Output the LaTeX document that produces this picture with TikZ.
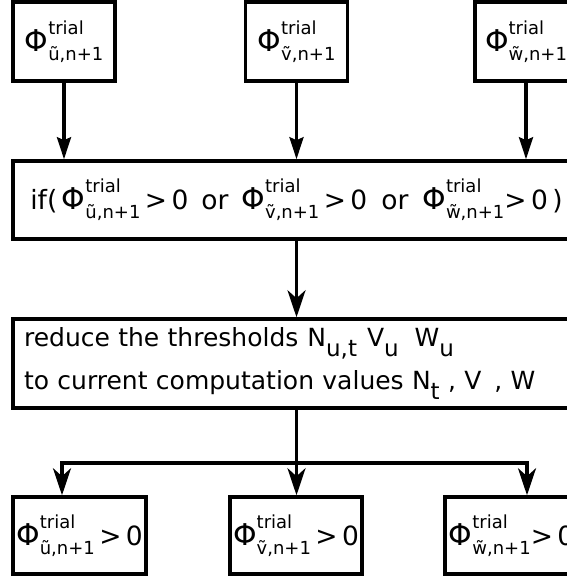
\documentclass[tikz,border=0pt]{standalone}
\usepackage{fontspec}
\setmainfont{DejaVu Sans}
\usetikzlibrary{arrows.meta}
\newcommand{\scr}{\fontsize{18}{19}\selectfont}
\newcommand{\phitr}[1]{{\fontsize{30}{32}\selectfont Φ}\rlap{\raisebox{17pt}{\scr trial}}\raisebox{-9pt}{\scr \~{#1},n+1}}
\newcommand{\subl}[1]{\raisebox{-10pt}{\fontsize{23}{24}\selectfont #1}}
\begin{document}
\begin{tikzpicture}[x=1pt,y=-1pt,
  box/.style={draw, line width=3.5pt, inner sep=0pt, font=\fontsize{26.5}{43}\selectfont},
  tarr/.style={line width=3.5pt, -{Stealth[length=22pt,width=14pt,inset=3pt]}},
  barr/.style={line width=3.5pt, -{Stealth[length=27pt,width=18pt,inset=8pt]}}]
\useasboundingbox (0,0) rectangle (567,581);
\clip (0,0) rectangle (567,581);
\node[box, minimum width=102, minimum height=79] (tu) at (64,41.5) {\phitr{u}};
\node[box, minimum width=102, minimum height=79] (tv) at (296.5,41.5) {\phitr{v}};
\node[box, minimum width=102, minimum height=79] (tw) at (526,41.5) {\phitr{w}};
\node[box, minimum width=567, minimum height=78] (if) at (296.5,200)
  {if(\,\phitr{u}\,>\,0\hspace{13pt}or\hspace{13pt}\phitr{v}\,>\,0\hspace{14pt}or\hspace{14pt}\phitr{w}>\,0\,)};
\node[box, font=\fontsize{25}{43}\selectfont, minimum height=89, text width=545, inner xsep=11pt, align=left] (rd) at (296.5,363.5)
  {reduce the thresholds\hspace{9pt}N\subl{u,t}\hspace{10pt}V\subl{u}\hspace{16pt}W\subl{u}\\
   to current computation values N\subl{t} , V\hspace{13pt}, W};
\node[box, minimum width=133, minimum height=77] (bu) at (79.5,535.5) {\phitr{u}\,>\,0};
\node[box, minimum width=132, minimum height=77] (bv) at (296,535.5) {\phitr{v}\,>\,0};
\node[box, minimum width=133, minimum height=77] (bw) at (511.5,535.5) {\phitr{w}>\,0};
\coordinate (jl) at (62,463);
\coordinate (jm) at (296.5,463);
\coordinate (jr) at (527,463);
\draw[tarr] (tu) -- (tu |- if.north);
\draw[tarr] (tv) -- (tv |- if.north);
\draw[tarr] (tw) -- (tw |- if.north);
\draw[barr] (if) -- (if |- rd.north);
\draw[barr] (rd.south) -- (jm) -- (jm |- bv.north);
\draw[barr] (jm) -- (jl) -- (jl |- bu.north);
\draw[barr] (jm) -- (jr) -- (jr |- bw.north);
\end{tikzpicture}
\end{document}
